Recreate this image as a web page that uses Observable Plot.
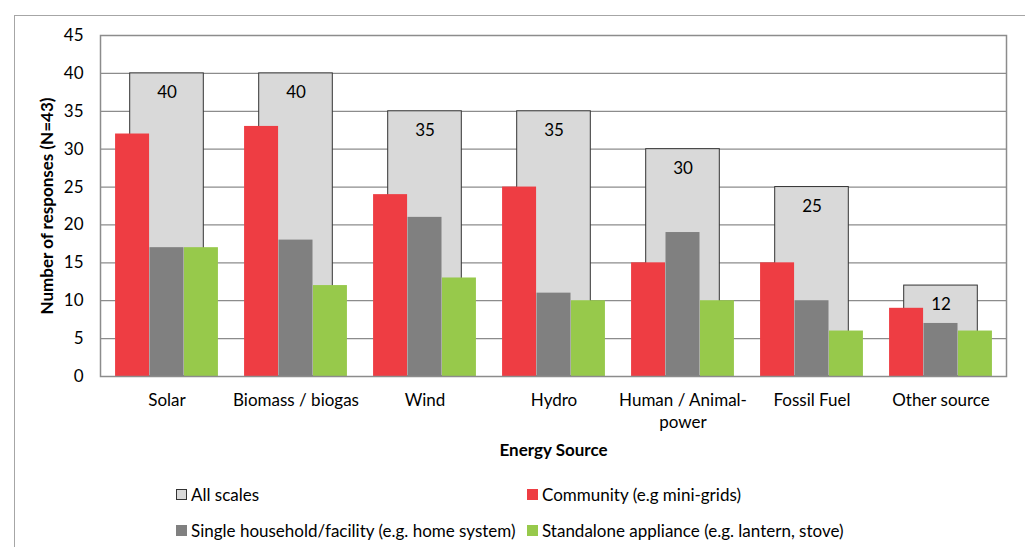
<!DOCTYPE html>
<html><head><meta charset="utf-8">
<script src="https://cdn.jsdelivr.net/npm/d3@7"></script>
<script src="https://cdn.jsdelivr.net/npm/@observablehq/plot@0.6"></script>
<style>
body{margin:0;background:#fff;font-family:Lato,"Open Sans",sans-serif;}
#wrap{position:relative;width:1025px;height:547px;overflow:hidden;background:#fff;}
#border{position:absolute;left:14px;top:15px;width:1100px;height:600px;border:1px solid #a6a6a6;box-sizing:border-box;}
#chart{position:absolute;left:0;top:0;}
.leg{position:absolute;font-size:17px;color:#000;display:flex;align-items:center;white-space:nowrap;}
.sw{width:11px;height:11px;margin-right:4px;box-sizing:border-box;}
</style></head><body>
<div id="wrap"><div id="border"></div><div id="chart"></div><div id="legend"></div></div>
<script>
const categories = ["Solar", "Biomass / biogas", "Wind", "Hydro", "Human / Animal-\npower", "Fossil Fuel", "Other source"];
const allScales = [40, 40, 35, 35, 30, 25, 12];
const community = [32, 33, 24, 25, 15, 15, 9];
const single = [17, 18, 21, 11, 19, 10, 7];
const standalone = [17, 12, 13, 10, 10, 6, 6];
const seriesNames = ["All scales", "Community (e.g mini-grids)", "Single household/facility (e.g. home system)", "Standalone appliance (e.g. lantern, stove)"];
const seriesColors = ["#d9d9d9", "#ee3d43", "#808080", "#97c94b"];
const yTicks = [0, 5, 10, 15, 20, 25, 30, 35, 40, 45];

const W = 1025, H = 470, ML = 100, MR = 19, MT = 35, MB = 94;
const bw = (W - ML - MR) / categories.length;   // band width
const sub = bw * 0.266;                           // inner bar width
const groupStart = (bw - 3 * sub) / 2;
const allInset = (bw - bw * 0.572) / 2;

const rows = (vals) => categories.map((c, i) => ({cat: c, value: vals[i]}));
const font = "Lato, 'Open Sans', sans-serif";

function inner(k) {
  const left = groupStart + k * sub;
  return {insetLeft: left, insetRight: bw - left - sub};
}

const chart = Plot.plot({
  width: W, height: H,
  marginLeft: ML, marginRight: MR, marginTop: MT, marginBottom: MB,
  style: {fontFamily: font, fontSize: "17px", color: "#000", background: "transparent"},
  x: {domain: categories, padding: 0, label: null},
  y: {domain: [0, 45], label: null},
  marks: [
    Plot.ruleY(yTicks.slice(1), {y: d => d, stroke: "#8c8c8c", strokeWidth: 1.2}),
    Plot.barY(rows(allScales), {x: "cat", y: "value", fill: seriesColors[0], stroke: "#333", strokeWidth: 1, insetLeft: allInset, insetRight: allInset}),
    Plot.text(rows(allScales), {x: "cat", y: "value", text: d => String(d.value), dy: 19, fontSize: 17, fill: "#000"}),
    Plot.barY(rows(community), {x: "cat", y: "value", fill: seriesColors[1], ...inner(0)}),
    Plot.barY(rows(single), {x: "cat", y: "value", fill: seriesColors[2], ...inner(1)}),
    Plot.barY(rows(standalone), {x: "cat", y: "value", fill: seriesColors[3], ...inner(2)}),
    Plot.frame({stroke: "#8c8c8c", strokeWidth: 1.5}),
    Plot.axisY({ticks: yTicks, tickSize: 0, tickPadding: 17, label: null, fontSize: 17}),
    Plot.axisX({tickSize: 0, tickPadding: 14, label: null, fontSize: 17, lineHeight: 1.3}),
    Plot.text(["Energy Source"], {frameAnchor: "bottom", dy: 79, fontWeight: "bold", fontSize: 17}),
    Plot.text(["Number of responses (N=43)"], {frameAnchor: "left", textAnchor: "middle", rotate: -90, dx: -53, fontWeight: "bold", fontSize: 17})
  ]
});
document.getElementById("chart").appendChild(chart);

const legendPos = [[176, 496], [527, 496], [176, 532], [527, 532]];
const leg = document.getElementById("legend");
seriesNames.forEach((name, i) => {
  const d = document.createElement("div");
  d.className = "leg";
  d.style.left = legendPos[i][0] + "px";
  d.style.top = (legendPos[i][1] - 12) + "px";
  const sw = document.createElement("span");
  sw.className = "sw";
  sw.style.background = seriesColors[i];
  if (i === 0) sw.style.border = "1px solid #333";
  d.appendChild(sw);
  const t = document.createElement("span");
  t.textContent = name;
  d.appendChild(t);
  leg.appendChild(d);
});
</script>
</body></html>
